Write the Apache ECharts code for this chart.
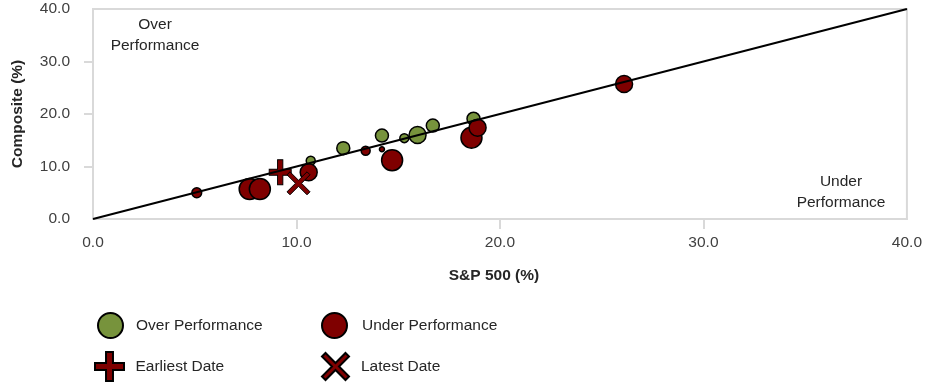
<!DOCTYPE html>
<html>
<head>
<meta charset="utf-8">
<script src="https://cdn.jsdelivr.net/npm/echarts@6/dist/echarts.min.js"></script>
<style>
  html, body { margin: 0; padding: 0; background: #fff; }
  #chart { width: 925px; height: 384px; }
</style>
</head>
<body>
<div id="chart"></div>
<script>
// Composite vs S&P 500 returns (%), bubble weight drives marker size
var overX = [10.7, 12.3, 14.2, 15.3, 15.95, 16.7, 18.7];
var overY = [11.1, 13.5, 15.9, 15.4, 16.0, 17.8, 19.1];
var overWeight = [2, 3, 3, 2, 4, 3, 3];

var underX = [5.1, 7.7, 8.2, 10.6, 13.4, 14.2, 14.7, 18.6, 18.9, 26.1];
var underY = [5.0, 5.7, 5.7, 8.9, 13.0, 13.3, 11.2, 15.5, 17.4, 25.7];
var underWeight = [2.2, 5, 5, 4, 2, 1, 5, 5, 4, 4];

var earliest = [9.2, 8.9];
var latest = [10.1, 6.8];

var parity = [[0, 0], [40, 40]];

var axisTicks = [10, 20, 30];

var FONT = '"Liberation Sans", Arial, sans-serif';
var FS = 15.5;
var GREEN = '#77933C';
var RED = '#7F0000';

var plusPath = 'path://M38,0 H62 V38 H100 V62 H62 V100 H38 V62 H0 V38 H38 Z';
var crossPath = 'path://M0,13 L13,0 L50,37 L87,0 L100,13 L63,50 L100,87 L87,100 L50,63 L13,100 L0,87 L37,50 Z';

function zip(xs, ys, ws) {
  return xs.map(function (x, i) { return ws ? [x, ys[i], ws[i]] : [x, ys[i]]; });
}
function bubbleSize(v) { return 1 + 4 * v[2]; }

var chart = echarts.init(document.getElementById('chart'));

function legendBox(name, left, top, w, h, padLeft) {
  return {
    data: [name],
    left: left, top: top,
    itemWidth: w, itemHeight: h,
    selectedMode: false,
    padding: 0,
    textStyle: { fontFamily: FONT, fontSize: FS, color: '#262626', padding: [0, 0, 0, padLeft] }
  };
}

function note(x, y, lines) {
  return lines.map(function (t, i) {
    return {
      type: 'text', x: x, y: y + i * 21,
      style: { text: t, fontFamily: FONT, fontSize: FS, align: 'center', verticalAlign: 'top', fill: '#262626' }
    };
  });
}

chart.setOption({
  animation: false,
  backgroundColor: '#fff',
  grid: {
    left: 93, right: 13, top: 9, bottom: 165,
    show: true, borderColor: '#d9d9d9', borderWidth: 2, backgroundColor: 'transparent'
  },
  xAxis: {
    type: 'value', min: 0, max: 40, interval: 10,
    name: 'S&P 500 (%)', nameLocation: 'middle', nameGap: 49,
    nameTextStyle: { fontFamily: FONT, fontSize: FS, fontWeight: 'bold', color: '#262626', padding: [0, 12, 0, 0] },
    axisLine: { show: true, lineStyle: { color: '#d9d9d9', width: 2 } },
    axisTick: { show: true, customValues: axisTicks, length: 10, lineStyle: { color: '#d9d9d9', width: 2 } },
    splitLine: { show: false },
    axisLabel: {
      margin: 16, fontFamily: FONT, fontSize: FS, color: '#404040',
      formatter: function (v) { return v.toFixed(1); }
    }
  },
  yAxis: {
    type: 'value', min: 0, max: 40, interval: 10,
    name: 'Composite (%)', nameLocation: 'middle', nameGap: 67,
    nameTextStyle: { fontFamily: FONT, fontSize: FS, fontWeight: 'bold', color: '#262626' },
    axisLine: { show: true, lineStyle: { color: '#d9d9d9', width: 2 } },
    axisTick: { show: true, customValues: axisTicks, length: 9, lineStyle: { color: '#d9d9d9', width: 2 } },
    splitLine: { show: false },
    axisLabel: {
      margin: 23, fontFamily: FONT, fontSize: FS, color: '#404040',
      formatter: function (v) { return v.toFixed(1); }
    }
  },
  legend: [
    legendBox('Over Performance', 97, 312, 25, 25, 8),
    legendBox('Under Performance', 321, 312, 25, 25, 10),
    legendBox('Earliest Date', 94, 351, 30, 29, 6),
    legendBox('Latest Date', 321, 352, 29, 27, 6)
  ],
  graphic: note(155, 17, ['Over', 'Performance']).concat(note(841, 174, ['Under', 'Performance'])),
  series: [
    {
      name: 'Over Performance', type: 'scatter', z: 2,
      data: zip(overX, overY, overWeight),
      symbol: 'circle', symbolSize: bubbleSize,
      itemStyle: { color: GREEN, borderColor: '#000', borderWidth: 1.5, opacity: 1 }
    },
    {
      name: 'Under Performance', type: 'scatter', z: 2,
      data: zip(underX, underY, underWeight),
      symbol: 'circle', symbolSize: bubbleSize,
      itemStyle: { color: RED, borderColor: '#000', borderWidth: 1.5, opacity: 1 }
    },
    {
      name: 'Earliest Date', type: 'scatter', z: 3,
      data: [earliest],
      symbol: plusPath, symbolSize: [22, 25],
      itemStyle: { color: RED, borderColor: '#000', borderWidth: 1, opacity: 1 }
    },
    {
      name: 'Latest Date', type: 'scatter', z: 3,
      data: [latest],
      symbol: crossPath, symbolSize: [23, 23],
      itemStyle: { color: RED, borderColor: '#000', borderWidth: 1, opacity: 1 }
    },
    {
      name: 'Parity', type: 'line', z: 4,
      data: parity, showSymbol: false, symbol: 'none',
      lineStyle: { color: '#000', width: 2 },
      silent: true
    }
  ]
});
</script>
</body>
</html>
